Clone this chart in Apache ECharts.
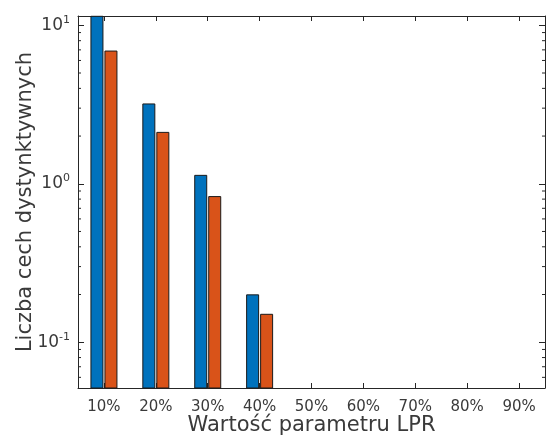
<!DOCTYPE html>
<html>
<head>
<meta charset="utf-8">
<script src="https://cdn.jsdelivr.net/npm/echarts@6/dist/echarts.min.js"></script>
<style>
html,body{margin:0;padding:0;background:#fff;}
#chart{width:546px;height:437px;}
</style>
</head>
<body>
<div id="chart"></div>
<script>
const categories = ['10%', '20%', '30%', '40%', '50%', '60%', '70%', '80%', '90%'];
const seriesBlue = [11.4, 3.19, 1.13, 0.199, null, null, null, null, null];
const seriesOrange = [6.88, 2.11, 0.83, 0.150, null, null, null, null, null];
const yMin = 0.0514;
const yMax = 11.45;
const majorTicks = [0.1, 1, 10];
const minorTicks = [0.06, 0.07, 0.08, 0.09, 0.2, 0.3, 0.4, 0.5, 0.6, 0.7, 0.8, 0.9, 2, 3, 4, 5, 6, 7, 8, 9];
const xTitle = 'Wartość parametru LPR';
const yTitle = 'Liczba cech dystynktywnych';

const FONT = 'DejaVu Sans';
const TXT = '#3a3a3a';
const AX = '#262626';
const BAR_W = 12;
const BAR_OFFSET = 7;

function isMajor(v) {
  return majorTicks.some(function (m) { return Math.abs(Math.log10(v) - Math.log10(m)) < 1e-6; });
}

function barRenderer(offset) {
  return function (params, api) {
    const v = api.value(1);
    if (v == null || isNaN(v)) return;
    const cs = params.coordSys;
    const top = api.coord([api.value(0), v]);
    const bottom = api.coord([api.value(0), yMin]);
    const rect = echarts.graphic.clipRectByRect({
      x: top[0] + offset - BAR_W / 2,
      y: top[1],
      width: BAR_W,
      height: bottom[1] - top[1]
    }, {x: cs.x, y: cs.y, width: cs.width, height: cs.height});
    if (!rect) return;
    return {type: 'rect', shape: rect, style: api.style()};
  };
}

const chart = echarts.init(document.getElementById('chart'), null, {renderer: 'canvas'});
const yCommon = {
  type: 'log',
  logBase: 10,
  min: yMin,
  max: yMax,
  splitLine: {show: false},
  minorTick: {show: false},
  axisLine: {show: true, lineStyle: {color: AX, width: 1}},
  axisTick: {show: true, inside: true, length: 6, lineStyle: {color: AX}}
};
chart.setOption({
  animation: false,
  backgroundColor: '#fff',
  grid: {left: 78, right: 1, top: 16, bottom: 49, containLabel: false, outerBoundsMode: 'none'},
  xAxis: [{
    type: 'category',
    data: categories,
    position: 'bottom',
    axisLine: {show: true, lineStyle: {color: AX, width: 1}},
    axisTick: {show: true, inside: true, alignWithLabel: true, length: 5, lineStyle: {color: AX}},
    axisLabel: {color: TXT, fontFamily: FONT, fontSize: 15, margin: 12},
    name: xTitle,
    nameLocation: 'middle',
    nameGap: 27,
    nameMoveOverlap: false,
    nameTextStyle: {color: TXT, fontFamily: FONT, fontSize: 21}
  }, {
    type: 'category',
    data: categories,
    position: 'top',
    axisLine: {show: true, lineStyle: {color: AX, width: 1}},
    axisTick: {show: true, inside: true, alignWithLabel: true, length: 5, lineStyle: {color: AX}},
    axisLabel: {show: false}
  }],
  yAxis: [Object.assign({}, yCommon, {
    position: 'left',
    axisLabel: {
      show: true,
      margin: 8,
      formatter: function (v) {
        if (!isMajor(v)) return '';
        const e = Math.round(Math.log10(v));
        return '{b|10}{s|' + e + '}';
      },
      rich: {
        b: {fontFamily: FONT, fontSize: 17, color: TXT},
        s: {fontFamily: FONT, fontSize: 11, color: TXT, padding: [0, 0, 11, 0]}
      }
    },
    name: yTitle,
    nameLocation: 'middle',
    nameGap: 42,
    nameMoveOverlap: false,
    nameRotate: 90,
    nameTextStyle: {color: TXT, fontFamily: FONT, fontSize: 21}
  }), Object.assign({}, yCommon, {
    position: 'right',
    axisLabel: {show: false}
  })],
  series: [{
    type: 'custom',
    name: 'A',
    xAxisIndex: 0,
    yAxisIndex: 0,
    data: seriesBlue.map(function (v, i) { return [i, v == null ? NaN : v]; }),
    renderItem: barRenderer(-BAR_OFFSET),
    itemStyle: {color: '#0072BD', borderColor: '#1a1a1a', borderWidth: 1},
    encode: {x: 0, y: 1},
    z: 2
  }, {
    type: 'custom',
    name: 'B',
    xAxisIndex: 0,
    yAxisIndex: 0,
    data: seriesOrange.map(function (v, i) { return [i, v == null ? NaN : v]; }),
    renderItem: barRenderer(BAR_OFFSET),
    itemStyle: {color: '#D95319', borderColor: '#1a1a1a', borderWidth: 1},
    encode: {x: 0, y: 1},
    z: 2
  }, {
    type: 'custom',
    xAxisIndex: 0,
    yAxisIndex: 0,
    silent: true,
    data: minorTicks.filter(function (v) { return v > yMin && v < yMax; }).map(function (v) { return [0, v]; }),
    renderItem: function (params, api) {
      const y = api.coord([0, api.value(1)])[1];
      const cs = params.coordSys;
      const st = {stroke: AX, lineWidth: 1};
      return {
        type: 'group',
        children: [
          {type: 'line', shape: {x1: cs.x, y1: y, x2: cs.x + 3, y2: y}, style: st},
          {type: 'line', shape: {x1: cs.x + cs.width - 3, y1: y, x2: cs.x + cs.width, y2: y}, style: st}
        ]
      };
    },
    z: 5
  }]
});
</script>
</body>
</html>
